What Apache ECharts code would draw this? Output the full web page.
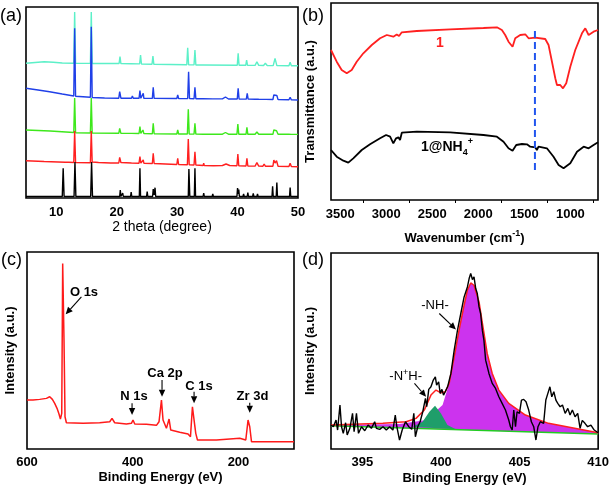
<!DOCTYPE html>
<html><head><meta charset="utf-8">
<script src="https://cdn.jsdelivr.net/npm/echarts@6/dist/echarts.min.js"></script>
<style>html,body{margin:0;padding:0;background:#fff}#c{width:612px;height:488px}</style>
</head><body><div id="c"></div>
<script>
// ---------- (a) XRD patterns: [2theta, intensity a.u.] ----------
const xrdTicks = [10, 20, 30, 40, 50];
const xrdBlack = [[5,1.5],[11.0,1.5],[11.15,29.7],[11.3,1.5],[12.95,1.5],[13.1,36],[13.25,1.5],[15.7,1.5],[15.85,36],[16.0,1.5],[20.5,1.5],[20.6,8],[20.7,1.5],[20.9,1.5],[21.0,5],[21.1,1.5],[22.3,1.5],[22.4,6],[22.5,1.5],[23.75,1.5],[23.85,29.7],[23.95,1.5],[24.95,1.5],[25.05,6.3],[25.15,1.5],[25.95,1.5],[26.05,9],[26.2,3],[26.35,10.3],[26.45,1.5],[30.7,1.5],[30.8,3],[30.9,1.5],[31.85,1.5],[31.95,29],[32.1,1.5],[32.85,1.5],[32.95,29.7],[33.05,1.5],[34.3,1.5],[34.4,5],[34.5,1.5],[35.8,1.5],[35.9,4],[36.0,1.5],[38.5,1.5],[38.6,3],[38.7,1.5],[39.9,1.5],[40.0,10],[40.1,4],[40.2,8.5],[40.3,1.5],[40.9,1.5],[41.0,4],[41.1,1.5],[41.6,1.5],[41.7,5.5],[41.8,1.5],[42.5,1.5],[42.6,4.5],[42.7,1.5],[43.2,1.5],[43.3,4],[43.4,1.5],[44.3,1.5],[44.4,3],[44.5,1.5],[44.9,1.5],[45.0,3.5],[45.1,1.5],[45.7,1.5],[45.8,11.7],[45.9,1.5],[46.4,1.5],[46.5,15.5],[46.6,1.5],[48.6,1.5],[48.7,10.5],[48.8,1.5],[50,1.5]];
const xrdRed = [[5,37.3],[8,36.5],[11.5,35.8],[12.1,35.7],[12.2,37],[12.3,35.6],[12.9,35.5],[13.05,67],[13.2,35.5],[15.65,35.3],[15.8,67],[15.95,36],[17,35.5],[19,35],[20.35,35],[20.5,40.7],[20.7,35.5],[22.45,35],[22.6,36.3],[22.75,35],[23.7,34.8],[23.85,41.3],[24.0,34.8],[24.3,34.8],[24.4,38],[24.5,34.8],[25.9,34.5],[26.05,44.7],[26.2,34.5],[29.95,33.5],[30.1,39.7],[30.25,33.5],[31.7,33.3],[31.85,59],[32.0,33.2],[32.8,33],[32.95,46.3],[33.1,33],[34.3,32.5],[34.4,34.7],[34.5,32.4],[36,32.3],[37.5,32.5],[38.1,34],[38.7,32.5],[39.9,32.2],[40.05,44],[40.2,32.2],[41.4,32],[41.55,39.7],[41.7,32],[42.9,31.9],[43.2,35.3],[43.5,31.9],[44.2,31.8],[44.4,34],[44.6,31.8],[45.85,31.8],[46.0,38],[46.2,35],[46.45,37.3],[46.7,31.7],[48.5,31.5],[48.7,34.7],[48.9,31.4],[50,31.3]];
const xrdGreen = [[5,68],[9,67],[12.9,65.5],[13.05,100],[13.2,65.3],[15.65,65],[15.8,100],[15.95,65],[20.35,64.7],[20.5,69.7],[20.7,64.7],[22.45,64.6],[22.6,66.3],[22.75,64.5],[23.7,64.5],[23.85,71.3],[24.0,64.5],[24.25,64.5],[24.35,68],[24.5,64.4],[25.9,64.3],[26.05,74.7],[26.2,64.2],[29.95,64],[30.1,68],[30.25,64],[31.7,64],[31.85,88.7],[32.0,64],[32.8,63.9],[32.95,74.7],[33.1,63.9],[34.3,63.8],[34.4,65],[34.5,63.8],[37.5,63.8],[38.0,65.5],[38.5,63.8],[39.9,63.8],[40.05,74],[40.2,63.8],[41.4,63.7],[41.55,70.7],[41.7,63.7],[42.9,63.7],[43.2,66],[43.5,63.7],[45.85,63.7],[46.0,68],[46.2,66],[46.45,67.3],[46.7,63.7],[48.5,63.7],[48.7,65.7],[48.9,63.6],[50,63.6]];
const xrdBlue = [[5,109.7],[7,108],[8.9,106.3],[11,104],[12.9,102],[13.05,169.7],[13.2,101.8],[15.65,100.8],[15.8,171.3],[15.95,100.5],[18,100],[20.35,99.8],[20.5,106.3],[20.7,99.8],[22.45,99.7],[22.6,102],[22.75,99.7],[23.7,99.7],[23.85,107.3],[24.0,99.7],[24.3,99.7],[24.4,104.7],[24.5,99.7],[25.9,99.6],[26.05,110.7],[26.2,99.6],[29.95,99.5],[30.1,103],[30.25,99.5],[31.75,99.4],[31.9,126.3],[32.05,99.4],[32.8,99.3],[32.95,110.7],[33.1,99.3],[34.3,99.2],[34.4,101],[34.5,99.2],[35.9,99.1],[36.0,100],[36.1,99.1],[37.5,99.1],[38.0,101],[38.5,99],[39.95,99],[40.1,109.7],[40.25,99],[41.45,98.9],[41.6,104.7],[41.75,98.9],[42.9,98.8],[43.2,100.5],[43.5,98.7],[44.3,98.6],[44.5,99.5],[44.7,98.6],[45.85,98.5],[46.0,103],[46.25,101],[46.5,102.5],[46.7,98.4],[48.5,98.2],[48.7,100.7],[48.9,98.1],[50,98]];
const xrdCyan = [[5,134.7],[6.5,135.5],[8,136.3],[9.5,135.8],[11,135],[12.9,134.8],[13.05,186],[13.2,134.7],[15.65,134.6],[15.8,186],[15.95,134.5],[20.4,134.5],[20.55,141.3],[20.7,134.4],[22.35,134.3],[22.5,135.3],[22.65,134.2],[23.8,134.1],[23.95,143],[24.1,134],[25.85,133.8],[26.0,142],[26.15,133.7],[31.6,133.2],[31.75,150.3],[31.9,133.2],[32.8,133.1],[32.95,148],[33.1,133],[34.35,133],[34.5,134],[34.65,133],[39.95,132.8],[40.1,144.7],[40.25,132.8],[41.35,132.7],[41.5,138],[41.65,132.7],[42.9,132.6],[43.2,136.3],[43.5,132.6],[44.3,132.5],[44.6,134.7],[44.9,132.5],[45.9,132.4],[46.2,139.7],[46.5,132.4],[48.5,132.3],[48.7,135.7],[48.9,132.3],[50,132.3]];

// ---------- (b) FT-IR: [wavenumber, transmittance a.u.] ----------
const irTicks = [3500, 3000, 2500, 2000, 1500, 1000];
const irMinorTicks = [3250, 2750, 2250, 1750, 1250, 750];
const ir1 = [[3600,150],[3538,138.3],[3484,130],[3429,126.7],[3375,130],[3321,138.3],[3249,146.7],[3157,155],[3067,161.7],[2994,165],[2923,163.3],[2886,165.5],[2861,164],[2831,167.7],[2668,169],[2306,170.7],[1944,172],[1798,172.7],[1744,170],[1708,165],[1672,158.3],[1628,153.3],[1599,161.7],[1545,165],[1490,165.7],[1454,161.7],[1382,162.3],[1273,161],[1237,155],[1200,138.3],[1164,121.7],[1146,115],[1110,115],[1080,111.7],[1045,116.7],[1001,133.3],[947,150],[874,166.7],[838,171.7],[802,165],[784,163.3],[748,168.3],[700,170]];
const ir1NH4 = [[3600,50],[3538,43.3],[3466,39.3],[3412,37.3],[3358,41.7],[3266,50],[3176,55.7],[3067,61.7],[3002,65],[2958,63.3],[2923,56.7],[2893,61.7],[2868,62.7],[2850,60],[2831,67.3],[2668,68.3],[2306,67.7],[1944,65],[1798,63.3],[1726,58.3],[1672,51.7],[1628,49.3],[1588,55],[1526,56],[1472,55.7],[1436,53.3],[1382,52.7],[1364,50],[1346,53.3],[1255,51.7],[1183,43.3],[1128,35],[1074,31.7],[1001,36.7],[928,48.3],[856,53.3],[802,51.7],[748,55],[700,57.7]];
const irMarker = [[1385,30],[1385,170]];

// ---------- (c) XPS survey: [binding energy eV, intensity a.u.] ----------
const surveyTicks = [600, 400, 200];
const survey = [[600,49],[588.6,49],[576,49.7],[563.3,50.7],[557,52.3],[552,49.7],[547.6,45.7],[543.2,40.7],[539.5,35],[536.8,30],[534.3,35.7],[532.5,185.7],[530,109],[528.1,32.3],[525.5,26.3],[494,25.7],[462.5,26.3],[443.5,27.3],[439.2,30.7],[434.1,26.3],[412,25],[402.5,25.7],[399.5,29],[396.2,25],[374.1,24.7],[355.2,23.7],[350.3,27.3],[345.7,49],[342.7,29],[336.3,20.7],[331.3,30],[328.1,19],[311.1,16.7],[295.4,15],[290.8,12.3],[287.1,42.3],[284,29],[280.8,15.7],[277.6,9],[241.7,9],[197.6,10.7],[186.2,9],[181.9,29],[178.7,22.3],[175.4,7.3],[147,7.3],[95,7.3]];
const surveyLabels = ['O 1s', 'N 1s', 'Ca 2p', 'C 1s', 'Zr 3d'];
const surveyArrows = [[[497.1,152.3],[526.8,135]],[[401.3,45.7],[401.3,34]],[[344.6,69],[344.6,52.3]],[[284,57.3],[284,45.7]],[[178.7,46.3],[178.7,36.3]]];

// ---------- (d) N 1s high resolution: [binding energy eV, intensity a.u.] ----------
const n1sTicks = [395, 400, 405, 410];
const n1sRaw = [[393,24],[393.15,22.3],[393.32,29],[393.42,19],[393.57,44],[393.67,22.3],[393.78,15.7],[393.93,26.3],[394.03,14],[394.2,20.7],[394.37,35.7],[394.47,17.3],[394.62,35.7],[394.75,15.7],[394.94,22.3],[395.15,18.3],[395.36,24],[395.57,20.7],[395.78,27.3],[395.89,20.7],[396.1,19.7],[396.31,22.3],[396.52,19],[396.73,22.3],[396.94,19],[397.09,34],[397.19,22.3],[397.36,9],[397.53,19],[397.74,27.3],[397.95,22.3],[398.14,19.7],[398.27,35.7],[398.37,12.3],[398.52,22.3],[398.67,27.3],[398.84,37.3],[399.01,50.7],[399.09,42.3],[399.22,59.7],[399.36,62.3],[399.51,69],[399.64,72.3],[399.72,64],[399.85,67.3],[399.95,55.7],[400.06,59.7],[400.16,54],[400.27,57.3],[400.42,62.3],[400.63,75.7],[400.84,99],[401.05,119],[401.26,135.7],[401.47,152.3],[401.68,162.3],[401.79,170.7],[401.89,175.7],[402,169.7],[402.1,172.3],[402.21,160.7],[402.31,155.7],[402.42,142.3],[402.52,135.7],[402.63,119],[402.73,109],[402.84,89],[403.05,75.7],[403.26,65.7],[403.47,60.7],[403.68,52.3],[403.89,45.7],[404.1,39],[404.31,29],[404.42,22.3],[404.53,19],[404.63,39],[404.74,22.3],[404.84,37.3],[404.99,35.7],[405.12,49],[405.26,49.7],[405.41,47.3],[405.58,39],[405.75,27.3],[405.9,22.3],[406.04,9],[406.17,22.3],[406.32,27.3],[406.53,25.7],[406.67,49],[406.8,55.7],[406.93,62.3],[407.05,52.3],[407.18,57.3],[407.31,49],[407.43,45.7],[407.58,42.3],[407.73,44],[407.9,35.7],[408.07,40.7],[408.21,34],[408.36,39],[408.53,32.3],[408.7,35.7],[408.85,20.7],[408.99,28.7],[409.16,25.7],[409.33,22.3],[409.54,24],[409.75,19],[410,16.3]];
const n1sBaseline = [[393,23.3],[410,15]];
const n1sNH = [[393,24],[397.36,25],[399.05,29],[400.1,44],[400.52,65.7],[400.84,92.3],[401.15,119],[401.47,144],[401.68,159],[401.89,166.3],[402.1,164],[402.42,147.3],[402.67,122.3],[402.94,95.7],[403.26,75.7],[403.68,59],[404.31,45.7],[405.37,34],[406.84,25.7],[410,16.3]];
const n1sNHplus = [[398.2,22.3],[398.83,27.3],[399.26,37.3],[399.62,43.3],[399.99,35.7],[400.41,24],[400.94,19.7]];
const n1sFit = [[393,24],[396.3,25.7],[397.78,27.3],[398.41,30.7],[398.94,39],[399.36,54],[399.68,59],[400,56.3],[400.27,57.3],[400.52,65.7],[400.84,92.3],[401.15,119],[401.47,144],[401.68,159],[401.89,166.3],[402.1,164],[402.42,147.3],[402.67,122.3],[402.94,95.7],[403.26,75.7],[403.68,59],[404.31,45.7],[405.37,34],[406.84,25.7],[410,16.3]];
const n1sArrows = [[[399.89,135.7],[400.95,119.7]],[[398.31,65.7],[399.05,52.3]]];

const FF = 'Liberation Sans, Arial, sans-serif';
const grids = [
  {left:26, top:7, width:272, height:191},
  {left:331, top:3, width:267, height:197},
  {left:27, top:252, width:267, height:197},
  {left:331, top:253, width:269, height:196}
].map(g => Object.assign(g, {show:true, borderColor:'#000', borderWidth:1.6, backgroundColor:'transparent'}));

const plain = v => String(v);
function lab(vals, margin) {
  return {customValues:vals, formatter:plain, color:'#000', fontFamily:FF, fontWeight:'bold', fontSize:13, margin:margin};
}
function xAx(i, o) {
  return Object.assign({
    gridIndex:i, type:'value', axisLine:{show:false}, splitLine:{show:false},
    axisTick:{show:false},
    nameLocation:'middle',
    nameTextStyle:{color:'#000', fontFamily:FF, fontWeight:'bold', fontSize:13}
  }, o);
}
function yAx(i, max, name, gap) {
  return {gridIndex:i, type:'value', min:0, max:max, axisLine:{show:false}, axisTick:{show:false},
    axisLabel:{show:false}, splitLine:{show:false}, name:name, nameLocation:'middle', nameGap:gap,
    nameTextStyle:{color:'#000', fontFamily:FF, fontWeight:'bold', fontSize:13}};
}
function line(xi, data, color, w, extra) {
  return Object.assign({type:'line', xAxisIndex:xi, yAxisIndex:xi, data:data, showSymbol:false, symbol:'none',
    lineStyle:{color:color, width:w}, silent:true, animation:false, z:2}, extra || {});
}
function fillPoly(xi, pts, color, z) {
  return {type:'custom', xAxisIndex:xi, yAxisIndex:xi, data:[[pts[0][0], pts[0][1]]], silent:true, animation:false, z:z, clip:true,
    renderItem:function(params, api){
      return {type:'polygon', shape:{points:pts.map(p => api.coord(p))}, style:{fill:color}};
    }};
}

const texts = [
  {type:'text', x:0, y:16, style:{text:'(a)', font:'18px '+FF, fill:'#000', verticalAlign:'middle'}},
  {type:'text', x:302, y:16, style:{text:'(b)', font:'18px '+FF, fill:'#000', verticalAlign:'middle'}},
  {type:'text', x:1, y:260, style:{text:'(c)', font:'18px '+FF, fill:'#000', verticalAlign:'middle'}},
  {type:'text', x:302, y:260, style:{text:'(d)', font:'18px '+FF, fill:'#000', verticalAlign:'middle'}},
  {type:'text', x:440, y:43, style:{text:'1', font:'bold 14px '+FF, fill:'#ff2020', align:'center', verticalAlign:'middle'}},
  {type:'text', x:447, y:147, style:{text:'1@NH{sub|4}{sup|+}', font:'bold 14px '+FF, fill:'#000', align:'center', verticalAlign:'middle', lineHeight:20,
    rich:{sub:{font:'bold 9px '+FF, fill:'#000', verticalAlign:'bottom', lineHeight:9}, sup:{font:'bold 9px '+FF, fill:'#000', verticalAlign:'top', lineHeight:9}}}},
  {type:'text', x:84, y:292.5, style:{text:surveyLabels[0], font:'bold 13px '+FF, fill:'#000', align:'center', verticalAlign:'middle'}},
  {type:'text', x:134, y:396.7, style:{text:surveyLabels[1], font:'bold 13px '+FF, fill:'#000', align:'center', verticalAlign:'middle'}},
  {type:'text', x:165, y:373, style:{text:surveyLabels[2], font:'bold 13px '+FF, fill:'#000', align:'center', verticalAlign:'middle'}},
  {type:'text', x:199, y:386, style:{text:surveyLabels[3], font:'bold 13px '+FF, fill:'#000', align:'center', verticalAlign:'middle'}},
  {type:'text', x:252.5, y:396.7, style:{text:surveyLabels[4], font:'bold 13px '+FF, fill:'#000', align:'center', verticalAlign:'middle'}},
  {type:'text', x:435, y:305.7, style:{text:'-NH-', font:'13px '+FF, fill:'#000', align:'center', verticalAlign:'middle'}},
  {type:'text', x:405.7, y:376.7, style:{text:'-N{sup|+}H-', font:'13px '+FF, fill:'#000', align:'center', verticalAlign:'middle', lineHeight:18,
    rich:{sup:{font:'9px '+FF, fill:'#000', verticalAlign:'top', lineHeight:9}}}}
];

const option = {
  backgroundColor:'#fff',
  animation:false,
  grid:grids,
  xAxis:[
    xAx(0,{min:5, max:50, axisLabel:lab(xrdTicks, 8),
      name:'2 theta (degree)', nameGap:21, nameTextStyle:{color:'#000', fontFamily:FF, fontWeight:'normal', fontSize:14}}),
    xAx(1,{min:700, max:3600, inverse:true, axisLabel:lab(irTicks, 8),
      axisTick:{show:true, inside:false, length:3, customValues:irMinorTicks, lineStyle:{color:'#000', width:1}},
      name:'Wavenumber (cm{sup|-1})', nameGap:29,
      nameTextStyle:{color:'#000', fontFamily:FF, fontWeight:'bold', fontSize:13, lineHeight:18,
        rich:{sup:{fontFamily:FF, fontWeight:'bold', fontSize:9, lineHeight:10, verticalAlign:'top', color:'#000'}}}}),
    xAx(2,{min:95, max:600, inverse:true, axisLabel:lab(surveyTicks, 7),
      name:'Binding Energy (eV)', nameGap:22}),
    xAx(3,{min:393, max:410, axisLabel:lab(n1sTicks, 7),
      name:'Binding Energy (eV)', nameGap:23})
  ],
  yAxis:[
    yAx(0,191,'',10),
    yAx(1,197,'Transmittance (a.u.)',14),
    yAx(2,197.3,'Intensity (a.u.)',10),
    yAx(3,196.3,'Intensity (a.u.)',14)
  ],
  series:[
    line(0, xrdCyan, '#5cf0c8', 1.4),
    line(0, xrdBlue, '#2040e8', 1.4),
    line(0, xrdGreen, '#3ee81c', 1.4),
    line(0, xrdRed, '#ff2020', 1.4),
    line(0, xrdBlack, '#000000', 1.4),
    line(1, ir1, '#ff2020', 1.8),
    line(1, ir1NH4, '#000000', 1.8),
    line(1, irMarker, '#2255ee', 2, {lineStyle:{color:'#2255ee', width:2, type:[7,4]}, z:3}),
    line(2, survey, '#ff1a1a', 1.5),
    fillPoly(3, n1sNH.concat([n1sBaseline[1], n1sBaseline[0]]), '#cc33ee', 1),
    fillPoly(3, n1sNHplus, '#1f9e6a', 1),
    line(3, n1sBaseline, '#22cc22', 1.6),
    line(3, n1sFit, '#ff2020', 1.5),
    line(3, n1sRaw, '#000000', 1.4, {z:4})
  ],
  graphic:texts
};
const chart = echarts.init(document.getElementById('c'), null, {renderer:'canvas'});
chart.setOption(option);

// arrows: endpoints given in data coordinates, converted through each grid's axes
function arrowEls(gi, list) {
  const els = [];
  list.forEach(a => {
    const p1 = chart.convertToPixel({xAxisIndex:gi, yAxisIndex:gi}, a[0]);
    const p2 = chart.convertToPixel({xAxisIndex:gi, yAxisIndex:gi}, a[1]);
    const dx = p2[0]-p1[0], dy = p2[1]-p1[1], L = Math.hypot(dx, dy);
    const ux = dx/L, uy = dy/L, hl = 7, hw = 3.2;
    const bx = p2[0]-ux*hl, by = p2[1]-uy*hl;
    els.push({type:'line', shape:{x1:p1[0], y1:p1[1], x2:bx, y2:by}, style:{stroke:'#000', lineWidth:1.1}, z:10});
    els.push({type:'polygon', shape:{points:[[p2[0],p2[1]],[bx-uy*hw, by+ux*hw],[bx+uy*hw, by-ux*hw]]}, style:{fill:'#000'}, z:10});
  });
  return els;
}
chart.setOption({graphic: texts.concat(arrowEls(2, surveyArrows), arrowEls(3, n1sArrows))});
</script>
</body></html>
